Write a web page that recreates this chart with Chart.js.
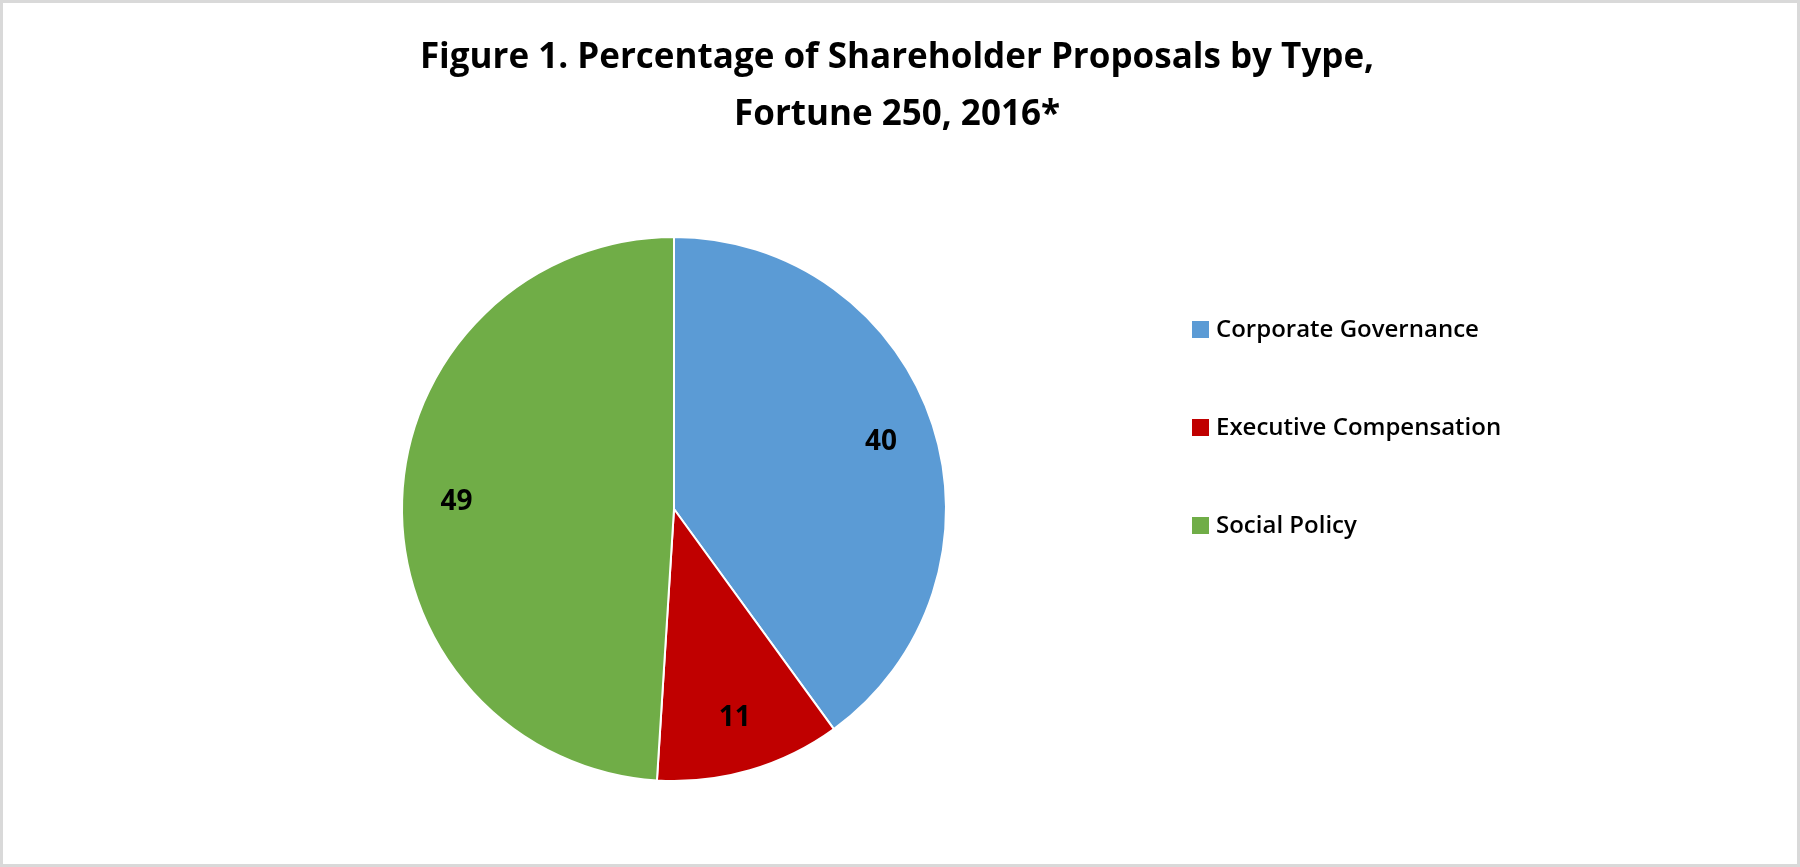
<!DOCTYPE html>
<html lang="en">
<head>
  <meta charset="UTF-8">
  <title>Shareholder Proposals by Type</title>
  <script src="https://cdn.jsdelivr.net/npm/chart.js"></script>
  <style>
    html, body { margin: 0; padding: 0; background: #fff; }
    #wrap { position: relative; width: 1800px; height: 867px; box-sizing: border-box; border: 3px solid #d9d9d9; }
    canvas { display: block; }
  </style>
</head>
<body>
  <div id="wrap"><canvas id="pie" width="1794" height="861"></canvas></div>
  <script>
    const categories = ['Corporate Governance', 'Executive Compensation', 'Social Policy'];
    const values = [40, 11, 49];
    const colors = ['#5b9bd5', '#c00000', '#70ad47'];
    const titleLines = ['Figure 1. Percentage of Shareholder Proposals by Type,', 'Fortune 250, 2016*'];

    // title, slice labels and legend drawn by hand to match the original layout
    const textPlugin = {
      id: 'textPlugin',
      afterDraw(chart) {
        const ctx = chart.ctx;
        ctx.save();
        ctx.fillStyle = '#000';
        ctx.textAlign = 'center';
        ctx.textBaseline = 'middle';
        ctx.font = 'bold 35px "Open Sans", sans-serif';
        ctx.fillText(titleLines[0], 894, 55);
        ctx.fillText(titleLines[1], 894, 112);

        const meta = chart.getDatasetMeta(0);
        ctx.font = 'bold 28px "Open Sans", sans-serif';
        meta.data.forEach((arc, i) => {
          const mid = (arc.startAngle + arc.endAngle) / 2;
          const r = arc.outerRadius * 0.8;
          ctx.fillText(String(values[i]), arc.x + Math.cos(mid) * r, arc.y + Math.sin(mid) * r);
        });

        ctx.textAlign = 'left';
        ctx.font = '600 24px "Open Sans", sans-serif';
        categories.forEach((c, i) => {
          const y = 327 + i * 98;
          ctx.fillStyle = colors[i];
          ctx.fillRect(1189, y - 9, 17, 17);
          ctx.fillStyle = '#000';
          ctx.fillText(c, 1213, y);
        });
        ctx.restore();
      }
    };

    new Chart(document.getElementById('pie'), {
      type: 'pie',
      data: {
        labels: categories,
        datasets: [{ data: values, backgroundColor: colors, borderColor: '#fff', borderWidth: 2 }]
      },
      options: {
        responsive: false,
        animation: false,
        layout: { padding: { left: 0, right: 452, top: 233, bottom: 82 } },
        plugins: { legend: { display: false }, tooltip: { enabled: false } }
      },
      plugins: [textPlugin]
    });
  </script>
</body>
</html>
